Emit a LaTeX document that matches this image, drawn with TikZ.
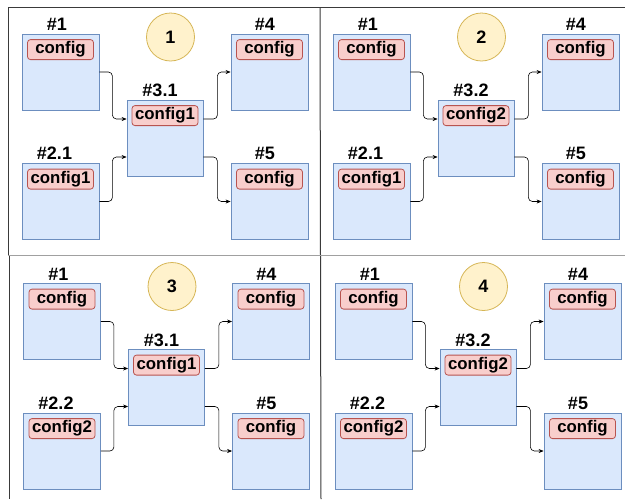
\documentclass[tikz,border=0pt]{standalone}
\usepackage{fontspec}
\setmainfont{Liberation Sans}
\usetikzlibrary{arrows.meta}

\definecolor{blockfill}{HTML}{DAE8FC}
\definecolor{blockdraw}{HTML}{6C8EBF}
\definecolor{tagfill}{HTML}{F8CECC}
\definecolor{tagdraw}{HTML}{B85450}
\definecolor{numfill}{HTML}{FFF2CC}
\definecolor{numdraw}{HTML}{D6B656}
\definecolor{framedark}{HTML}{3A3A3A}
\definecolor{framegrey}{HTML}{A0A0A0}

\tikzset{
  block/.style={draw=blockdraw, fill=blockfill, line width=0.8pt,
    minimum width=77pt, minimum height=76pt, inner sep=0pt},
  tag/.style={draw=tagdraw, fill=tagfill, line width=0.8pt, rounded corners=3pt,
    minimum width=66pt, minimum height=20pt, inner sep=0pt,
    font=\fontsize{16.8}{16.8}\selectfont\bfseries},
  lbl/.style={anchor=base, inner sep=0pt, font=\fontsize{18}{18}\selectfont\bfseries},
  numcirc/.style={circle, draw=numdraw, fill=numfill, line width=0.8pt,
    minimum size=48pt, inner sep=0pt, font=\fontsize{18}{18}\selectfont\bfseries},
  conn/.style={draw=black, line width=0.6pt, rounded corners=4pt,
    -{Stealth[length=5pt,width=4pt]}},
  frame/.style={draw=framedark, line width=1pt},
}

% one panel: #1 prefix, #2/#3 shift, #4 number, #5/#6 second input label/tag,
% #7/#8 middle node label/tag
\newcommand\drawpanel[8]{%
\begin{scope}[shift={(#2,#3)}]
  \node[numcirc] (#1c) at (170.5,37) {#4};
  \node[block] (#1b1) at (60.5,72) {};
  \node[block] (#1b2) at (60.5,201.5) {};
  \node[block, minimum width=76pt] (#1b3) at (165,138) {};
  \node[block] (#1b4) at (269.5,72) {};
  \node[block] (#1b5) at (269.5,201.5) {};
  \node[lbl] (#1l1) at (57,30.5) {\#1};
  \node[lbl] (#1l2) at (54.5,159.5) {#5};
  \node[lbl] (#1l3) at (160,96.5) {#7};
  \node[lbl] (#1l4) at (265,30.5) {\#4};
  \node[lbl] (#1l5) at (265,159.5) {\#5};
  \node[tag] (#1t1) at ([yshift=-16pt]#1b1.north) {config};
  \node[tag] (#1t2) at ([yshift=-16pt]#1b2.north) {#6};
  \node[tag] (#1t3) at ([yshift=-16pt]#1b3.north) {#8};
  \node[tag] (#1t4) at ([yshift=-16pt]#1b4.north) {config};
  \node[tag] (#1t5) at ([yshift=-16pt]#1b5.north) {config};
  \draw[conn] (#1b1.east) -- ++(13,0) |- ([yshift=19pt]#1b3.west);
  \draw[conn] (#1b2.east) -- ++(13,0) |- ([yshift=-19pt]#1b3.west);
  \draw[conn] ([yshift=19pt]#1b3.east) -- ++(14,0) |- (#1b4.west);
  \draw[conn] ([yshift=-19pt]#1b3.east) -- ++(14,0) |- (#1b5.west);
\end{scope}}

\begin{document}
\begin{tikzpicture}[x=1pt, y=-1pt]
  \useasboundingbox (0,0) rectangle (625,499);
  \fill[white] (0,0) rectangle (625,499);

  % panel frames
  \coordinate (ftl) at (8,7);
  \coordinate (ftr) at (625,7);
  \coordinate (fml) at (8,255.5);
  \coordinate (fmr) at (625,255.5);
  \coordinate (fdt) at (320,7);
  \coordinate (fdm) at (320.5,255.5);
  \coordinate (fdb) at (321,499);
  \coordinate (fbl) at (9.7,255.5);
  \coordinate (fbb) at (9.7,499);
  \draw[frame] (ftr) -- (ftl) -- (fml);
  \draw[frame] (fdt) -- (fdm);
  \draw[frame] (fdm) -- (fdb);
  \draw[frame] (fbl) -- (fbb);
  \draw[draw=framegrey, line width=1.2pt] (fml) -- (fmr);

  \drawpanel{pa}{0}{0}{1}{\#2.1}{config1}{\#3.1}{config1}
  \drawpanel{pb}{311}{0}{2}{\#2.1}{config1}{\#3.2}{config2}
  \drawpanel{pc}{1.5}{249.5}{3}{\#2.2}{config2}{\#3.1}{config1}
  \drawpanel{pd}{313}{249.5}{4}{\#2.2}{config2}{\#3.2}{config2}
\end{tikzpicture}
\end{document}
